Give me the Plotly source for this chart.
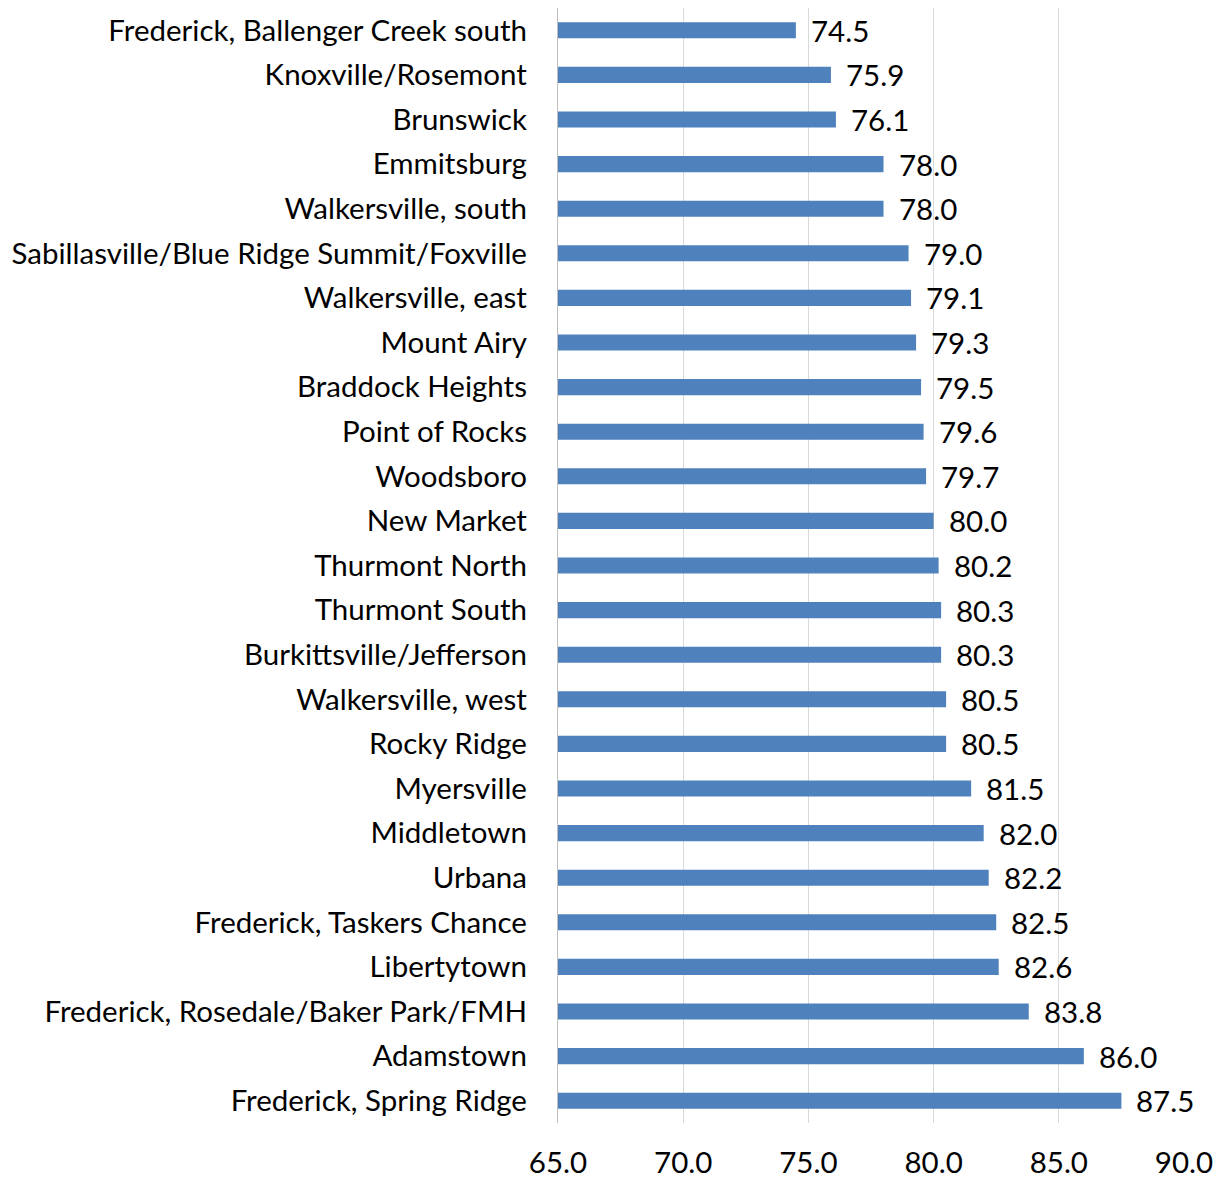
import plotly.graph_objects as go

categories = [
    "Frederick, Ballenger Creek south", "Knoxville/Rosemont", "Brunswick", "Emmitsburg",
    "Walkersville, south", "Sabillasville/Blue Ridge Summit/Foxville", "Walkersville, east",
    "Mount Airy", "Braddock Heights", "Point of Rocks", "Woodsboro", "New Market",
    "Thurmont North", "Thurmont South", "Burkittsville/Jefferson", "Walkersville, west",
    "Rocky Ridge", "Myersville", "Middletown", "Urbana", "Frederick, Taskers Chance",
    "Libertytown", "Frederick, Rosedale/Baker Park/FMH", "Adamstown", "Frederick, Spring Ridge",
]
values = [74.5, 75.9, 76.1, 78.0, 78.0, 79.0, 79.1, 79.3, 79.5, 79.6, 79.7, 80.0,
          80.2, 80.3, 80.3, 80.5, 80.5, 81.5, 82.0, 82.2, 82.5, 82.6, 83.8, 86.0, 87.5]
x_ticks = [65, 70, 75, 80, 85, 90]
x_min = 65

FONT = "Lato"
SIZE = 29.5
fig = go.Figure(go.Bar(
    x=[v - x_min for v in values], y=categories, orientation="h", base=x_min,
    marker=dict(color="#4f81bd", line=dict(width=0)),
    width=0.36, hoverinfo="skip",
))

for c, v in zip(categories, values):
    fig.add_annotation(x=v, y=c, text=f"{v:.1f}", showarrow=False, xanchor="left",
                       xshift=13, yshift=0, font=dict(family=FONT, size=SIZE, color="#000"))

fig.update_layout(
    width=1221, height=1180,
    margin=dict(l=558, r=37, t=8, b=57, autoexpand=False),
    plot_bgcolor="white", paper_bgcolor="white",
    showlegend=False,
    font=dict(family=FONT, size=SIZE, color="#000"),
    xaxis=dict(range=[65, 90], tickvals=x_ticks, ticktext=[f"{t:.1f}" for t in x_ticks],
               showgrid=True, gridcolor="#d9d9d9", gridwidth=1.3, zeroline=False,
               showline=False, ticks="", ticklabelstandoff=19, automargin=False),
    yaxis=dict(autorange="reversed", showline=True, linecolor="#bfbfbf", linewidth=1.3,
               ticks="", showgrid=False, ticklabelstandoff=24, automargin=False),
)
fig.write_html("out.html")
